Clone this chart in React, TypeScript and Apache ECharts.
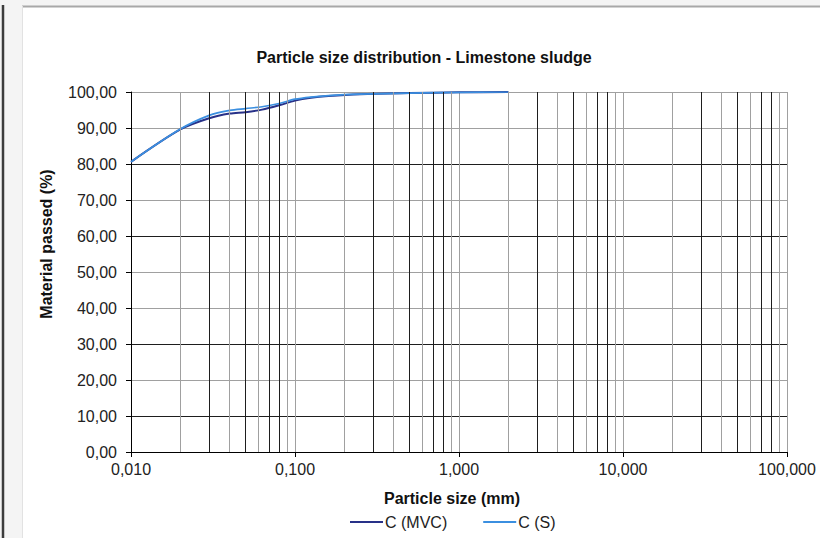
import React, { useEffect, useRef } from "react";
import * as echarts from "echarts";

const sizes = [0.01, 0.02, 0.03, 0.04, 0.05, 0.063, 0.08, 0.1, 0.125, 0.16, 0.25, 0.5, 1, 2];
const passedMVC = [80.6, 89.6, 92.7, 94.0, 94.4, 95.1, 96.3, 97.6, 98.4, 98.9, 99.4, 99.7, 99.9, 100];
const passedS = [80.6, 89.7, 93.5, 94.9, 95.4, 95.9, 96.8, 98.0, 98.6, 99.0, 99.4, 99.7, 99.9, 100];
const seriesNames = ["C (MVC)", "C (S)"];
const decades = [0.01, 0.1, 1, 10];
const minorSteps = [2, 3, 4, 5, 6, 7, 8, 9];
const darkSteps = [3, 5, 7, 8];

const FONT = "'Liberation Sans', Arial, sans-serif";

export default function App() {
  const ref = useRef<HTMLDivElement>(null);
  useEffect(() => {
    if (!ref.current) return;
    const chart = echarts.init(ref.current, undefined, { renderer: "svg" });
    const gridLines: any[] = [];
    decades.forEach((d) => {
      minorSteps.forEach((k) => {
        gridLines.push({
          xAxis: +(k * d).toPrecision(6),
          lineStyle: {
            color: darkSteps.includes(k) ? "#1e1e1e" : "#a0a0a0",
            width: 1,
            type: "solid",
          },
        });
      });
    });
    const toPairs = (ys: number[]) => sizes.map((x, i) => [x, ys[i]]);
    chart.setOption({
      animation: false,
      backgroundColor: "#f4f4f4",
      graphic: [
        { type: "rect", shape: { x: 23, y: 7, width: 797, height: 531 }, style: { fill: "#ffffff" }, z: -10 },
        { type: "line", shape: { x1: 22, y1: 6.5, x2: 820, y2: 6.5 }, style: { stroke: "#a8a8a8", lineWidth: 2 }, z: -9 },
        { type: "line", shape: { x1: 22.5, y1: 6, x2: 22.5, y2: 538 }, style: { stroke: "#e2e2e2", lineWidth: 1 }, z: -9 },
        { type: "line", shape: { x1: 3, y1: 5, x2: 3, y2: 538 }, style: { stroke: "#3c3c3c", lineWidth: 2.5 }, z: -9 },
        {
          type: "text",
          x: 424,
          y: 57,
          style: {
            text: "Particle size distribution - Limestone sludge",
            fontFamily: FONT,
            fontSize: 16,
            fontWeight: "bold",
            fill: "#111",
            align: "center",
            verticalAlign: "middle",
          },
        },
        {
          type: "text",
          x: 452,
          y: 498,
          style: {
            text: "Particle size (mm)",
            fontFamily: FONT,
            fontSize: 16,
            fontWeight: "bold",
            fill: "#111",
            align: "center",
            verticalAlign: "middle",
          },
        },
        {
          type: "text",
          x: 46,
          y: 244,
          rotation: Math.PI / 2,
          style: {
            text: "Material passed (%)",
            fontFamily: FONT,
            fontSize: 16,
            fontWeight: "bold",
            fill: "#111",
            align: "center",
            verticalAlign: "middle",
          },
        },
      ],
      grid: { left: 131, right: 33, top: 92, bottom: 86 },
      legend: {
        left: 345,
        top: 509,
        icon: "rect",
        itemWidth: 33,
        itemHeight: 2,
        itemGap: 36,
        textStyle: { fontFamily: FONT, fontSize: 16, color: "#222", padding: [0, 0, 0, -3] },
        data: seriesNames,
      },
      xAxis: {
        type: "log",
        logBase: 10,
        min: 0.01,
        max: 100,
        axisLine: { show: true, onZero: false, lineStyle: { color: "#000", width: 1 } },
        axisTick: { show: true, length: 5, lineStyle: { color: "#000" } },
        axisLabel: {
          fontFamily: FONT,
          fontSize: 16,
          color: "#222",
          margin: 9,
          formatter: (v: number) => v.toFixed(3).replace(".", ","),
        },
        splitLine: { show: true, lineStyle: { color: "#a0a0a0", width: 1 } },
      },
      yAxis: {
        type: "value",
        min: 0,
        max: 100,
        interval: 10,
        axisLine: { show: true, lineStyle: { color: "#000", width: 1 } },
        axisTick: { show: true, length: 5, lineStyle: { color: "#000" } },
        axisLabel: {
          fontFamily: FONT,
          fontSize: 16,
          color: "#222",
          margin: 14,
          formatter: (v: number) => v.toFixed(2).replace(".", ","),
        },
        splitLine: {
          show: true,
          lineStyle: {
            color: ["#000", "#1e1e1e", "#a0a0a0", "#1e1e1e", "#a0a0a0", "#a0a0a0", "#1e1e1e", "#a0a0a0", "#1e1e1e", "#a0a0a0", "#a0a0a0"],
            width: 1,
          },
        },
      },
      series: [
        {
          name: "gridlines",
          type: "line",
          data: [],
          silent: true,
          z: 1,
          markLine: {
            silent: true,
            symbol: ["none", "none"],
            label: { show: false },
            emphasis: { disabled: true },
            data: gridLines,
          },
        },
        {
          name: seriesNames[0],
          type: "line",
          smooth: 0.3,
          showSymbol: false,
          z: 3,
          data: toPairs(passedMVC),
          lineStyle: { color: "#283188", width: 2 },
          itemStyle: { color: "#283188" },
        },
        {
          name: seriesNames[1],
          type: "line",
          smooth: 0.3,
          showSymbol: false,
          z: 4,
          data: toPairs(passedS),
          lineStyle: { color: "#3b8fe0", width: 1.7 },
          itemStyle: { color: "#3b8fe0" },
        },
      ],
    });
    return () => chart.dispose();
  }, []);
  return <div ref={ref} style={{ position: "fixed", left: 0, top: 0, width: 820, height: 538 }} />;
}
